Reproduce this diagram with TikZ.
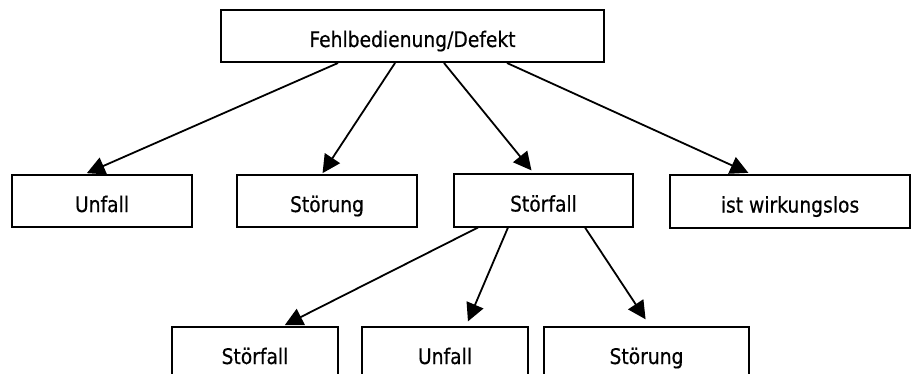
\documentclass[tikz,border=0pt]{standalone}
\usepackage{fontspec}
\setmainfont[FakeStretch=0.87,FakeBold=0.4]{DejaVu Sans}
\usetikzlibrary{arrows.meta}
\begin{document}
\begin{tikzpicture}[x=1pt,y=-1pt,
  box/.style={draw, line width=2pt, inner sep=0pt, text height=37pt, text depth=15pt, font=\fontsize{21.5}{25}\selectfont},
  pfeil/.style={draw, line width=1.8pt, -{Triangle[length=18pt,width=18pt]}}]
\fill[white] (0,0) rectangle (912,374);
\clip (0,0) rectangle (912,374);
\node[box, minimum width=383pt] (0) at (412.5,36) {Fehlbedienung/Defekt};
\node[box, minimum width=180pt] (1) at (102,201) {Unfall};
\node[box, minimum width=180pt] (2) at (327,201) {Störung};
\node[box, minimum width=179pt] (3) at (543.5,200.5) {Störfall};
\node[box, minimum width=240pt] (4) at (790,201.5) {ist wirkungslos};
\node[box, minimum width=166pt] (5) at (255,353) {Störfall};
\node[box, minimum width=166pt] (6) at (445,353) {Unfall};
\node[box, minimum width=205pt] (7) at (646.5,353) {Störung};

\path[pfeil, shorten >=2pt] ([xshift=-74.5pt]0.south) -- ([xshift=-17pt]1.north);
\path[pfeil, shorten >=1pt] ([xshift=-17.5pt]0.south) -- ([xshift=-5pt]2.north);
\path[pfeil, shorten >=4pt] ([xshift=31.5pt]0.south) -- ([xshift=-9.5pt]3.north);
\path[pfeil, shorten >=4pt] ([xshift=94.5pt]0.south) -- ([xshift=-38pt]4.north);
\path[pfeil, shorten >=2pt] ([xshift=-65.5pt]3.south) -- ([xshift=28pt]5.north);
\path[pfeil, shorten >=5pt] ([xshift=-35.5pt]3.south) -- ([xshift=21pt]6.north);
\path[pfeil, shorten >=8pt] ([xshift=41.5pt]3.south) -- ([xshift=3.5pt]7.north);
\end{tikzpicture}
\end{document}
